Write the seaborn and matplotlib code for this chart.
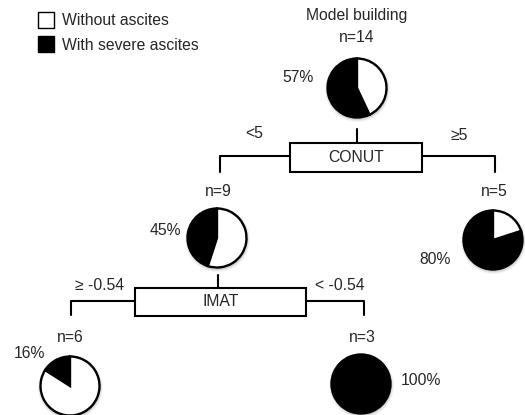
import matplotlib
matplotlib.use("Agg")
import matplotlib.pyplot as plt
import seaborn as sns
from matplotlib.patches import Rectangle, Circle

node_names = ["root", "conut_low", "conut_high", "imat_high", "imat_low"]
node_n = [14, 9, 5, 6, 3]
severe_pct = [57, 45, 80, 16, 100]
split_vars = ["CONUT", "IMAT"]
split_left = ["<5", "\u2265 -0.54"]
split_right = ["\u22655", "< -0.54"]
legend_labels = ["Without ascites", "With severe ascites"]
title = "Model building"

sns.set_theme(style="white")
plt.rcParams['font.family'] = ['Liberation Sans', 'DejaVu Sans']

W, H = 525, 415
FS = 11.3


def P(x, y):
    # pixel coords (y down) -> data coords (y up)
    return x, H - y


# layout (pixel positions)
pie_pos = {"root": (357, 88), "conut_low": (217, 238), "conut_high": (493, 240),
           "imat_high": (70, 386), "imat_low": (361, 384)}
n_pos = {"root": (357, 38), "conut_low": (218, 192), "conut_high": (494, 192),
         "imat_high": (70, 337), "imat_low": (362, 337)}
pct_pos = {"root": (298, 78), "conut_low": (165, 230), "conut_high": (435, 260),
           "imat_high": (29, 353), "imat_low": (421, 380)}
R = 29.5

fig = plt.figure(figsize=(5.25, 4.15), dpi=100)
ax = fig.add_axes([0, 0, 1, 1])

colors = ["black", "white"]
for name, n, pct in zip(node_names, node_n, severe_pct):
    cx, cy = P(*pie_pos[name])
    # soft shadow
    for k, a in [(3, 0.08), (2, 0.12), (1, 0.18)]:
        ax.add_patch(Circle((cx + 0.5, cy - 1.5), R + k, color="grey", alpha=a, lw=0, zorder=1))
    ax.pie([pct, 100 - pct], colors=colors, startangle=90, counterclock=True,
           center=(cx, cy), radius=R,
           wedgeprops=dict(edgecolor="black", linewidth=1.7, zorder=2))
    ax.text(*P(*n_pos[name]), f"n={n}", ha="center", va="center", fontsize=FS)
    ax.text(*P(*pct_pos[name]), f"{pct}%", ha="center", va="center", fontsize=FS)

# split boxes and branches
splits = [
    dict(top=129, mid_x=357, box=(290, 143, 422, 172), arm_y=156,
         left_x=220, left_end=172, right_x=495, right_end=172,
         lpos=(254, 133), rpos=(459, 135)),
    dict(top=275, mid_x=218, box=(135, 288, 306, 316), arm_y=301,
         left_x=71, left_end=315, right_x=364, right_end=315,
         lpos=(100, 285), rpos=(340, 285)),
]
lw = 1.5
for var, lt, rt, s in zip(split_vars, split_left, split_right, splits):
    x0, y0, x1, y1 = s["box"]
    ax.plot(*zip(P(s["mid_x"], s["top"]), P(s["mid_x"], y0)), color="black", lw=lw)
    bx, by = P(x0, y1)
    ax.add_patch(Rectangle((bx, by), x1 - x0, y1 - y0, facecolor="white",
                           edgecolor="black", lw=lw, zorder=3))
    ax.text(*P((x0 + x1) / 2, (y0 + y1) / 2), var, ha="center", va="center",
            fontsize=FS, zorder=4)
    lx, ly = zip(P(x0, s["arm_y"]), P(s["left_x"], s["arm_y"]), P(s["left_x"], s["left_end"]))
    ax.plot(lx, ly, color="black", lw=lw)
    rx, ry = zip(P(x1, s["arm_y"]), P(s["right_x"], s["arm_y"]), P(s["right_x"], s["right_end"]))
    ax.plot(rx, ry, color="black", lw=lw)
    ax.text(*P(*s["lpos"]), lt, ha="center", va="center", fontsize=FS)
    ax.text(*P(*s["rpos"]), rt, ha="center", va="center", fontsize=FS)

# title
ax.text(*P(357, 16), title, ha="center", va="center", fontsize=FS)

# legend
for i, (lab, fc) in enumerate(zip(legend_labels, ["white", "black"])):
    y_top = 12 + i * 24
    bx, by = P(38, y_top + 16)
    ax.add_patch(Rectangle((bx, by), 16, 16, facecolor=fc, edgecolor="black", lw=1.0))
    ax.text(*P(62, y_top + 9), lab, ha="left", va="center", fontsize=FS)

ax.set_xlim(0, W)
ax.set_ylim(0, H)
ax.set_aspect("auto")
ax.axis("off")

fig.savefig("out.png", dpi=100, facecolor="white")
